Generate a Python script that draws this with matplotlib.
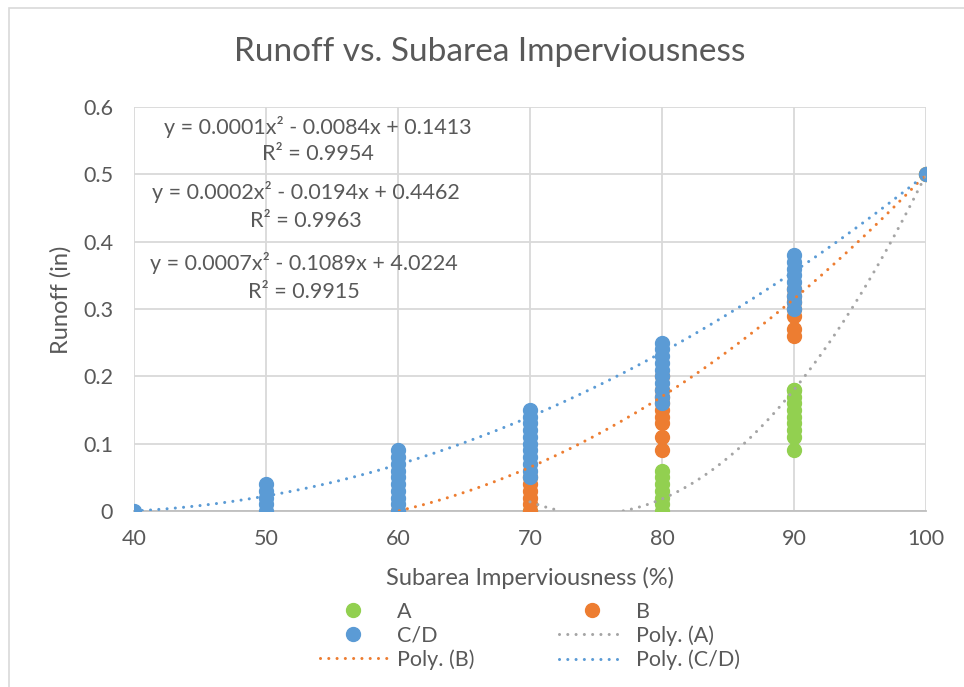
import numpy as np
import matplotlib
matplotlib.use("Agg")
import matplotlib.pyplot as plt
from matplotlib.lines import Line2D
from matplotlib.patches import Rectangle

plt.rcParams['font.family'] = ['Lato', 'DejaVu Sans']

# ---- data ----
a_x = [70, 80, 80, 80, 80, 80, 80, 80, 90, 90, 90, 90, 90, 90, 90, 90, 90, 90, 100]
a_y = [0.0, 0.0, 0.01, 0.02, 0.03, 0.04, 0.05, 0.06, 0.09, 0.11, 0.12, 0.13, 0.14, 0.15, 0.16, 0.17, 0.18, 0.18, 0.5]

b_x = [60, 70, 70, 70, 70, 70, 70, 80, 80, 80, 80, 80, 80, 80, 80, 80, 90, 90, 90, 90, 90, 90, 90, 100]
b_y = [0.0, 0.0, 0.01, 0.02, 0.03, 0.04, 0.05, 0.09, 0.11, 0.13, 0.14, 0.15, 0.16, 0.17, 0.18, 0.2, 0.26, 0.27, 0.29, 0.3, 0.31, 0.32, 0.33, 0.5]

cd_x = [40, 50, 50, 50, 50, 50, 60, 60, 60, 60, 60, 60, 60, 60, 60, 60,
        70, 70, 70, 70, 70, 70, 70, 70, 70, 70, 70,
        80, 80, 80, 80, 80, 80, 80, 80, 80, 80,
        90, 90, 90, 90, 90, 90, 90, 90, 90, 100]
cd_y = [0.0, 0.0, 0.01, 0.02, 0.03, 0.04, 0.0, 0.01, 0.02, 0.03, 0.04, 0.05, 0.06, 0.07, 0.08, 0.09,
        0.05, 0.06, 0.07, 0.08, 0.09, 0.1, 0.11, 0.12, 0.13, 0.14, 0.15,
        0.16, 0.17, 0.18, 0.19, 0.2, 0.21, 0.22, 0.23, 0.24, 0.25,
        0.3, 0.31, 0.32, 0.33, 0.34, 0.35, 0.36, 0.37, 0.38, 0.5]

# trendline values (quadratic drawn through them)
trend_a_x = [77, 90, 100]
trend_a_y = [0.0, 0.18, 0.5]
trend_a_range = [70, 100]
trend_b_x = [60, 80, 100]
trend_b_y = [0.0, 0.17, 0.5]
trend_b_range = [60, 100]
trend_cd_x = [40, 70, 100]
trend_cd_y = [0.0, 0.14, 0.5]
trend_cd_range = [40, 100]

eq_cd = ["y = 0.0001x² - 0.0084x + 0.1413", "R² = 0.9954"]
eq_b = ["y = 0.0002x² - 0.0194x + 0.4462", "R² = 0.9963"]
eq_a = ["y = 0.0007x² - 0.1089x + 4.0224", "R² = 0.9915"]

x_ticks = [40, 50, 60, 70, 80, 90, 100]
y_ticks = [0, 0.1, 0.2, 0.3, 0.4, 0.5, 0.6]
y_tick_labels = ["0", "0.1", "0.2", "0.3", "0.4", "0.5", "0.6"]

c_a = "#92d050"
c_b = "#ed7d31"
c_cd = "#5b9bd5"
c_pa = "#a5a5a5"
txt = "#595959"

W, H = 964, 687
fig = plt.figure(figsize=(W / 100, H / 100), dpi=100)
fig.patches.append(Rectangle((9 / W, -0.1), 1.2, 1 - 8 / H + 0.1, transform=fig.transFigure,
                             fill=False, edgecolor="#d9d9d9", linewidth=1.2))
ax = fig.add_axes([134 / W, 1 - 511 / H, (926 - 134) / W, (511 - 107) / H])

ms = 10
ax.plot(a_x, a_y, 'o', color=c_a, ms=ms, zorder=3)
ax.plot(b_x, b_y, 'o', color=c_b, ms=ms, zorder=3)
ax.plot(cd_x, cd_y, 'o', color=c_cd, ms=ms, zorder=3)

dot = (0, (0.01, 2.7))
dlw = 2.2


def trend(xs, ys, rng, color):
    coef = np.polyfit(xs, ys, 2)
    xx = np.linspace(rng[0], rng[1], 400)
    yy = np.polyval(coef, xx)
    yy = np.where(yy < 0, np.nan, yy)
    ax.plot(xx, yy, linestyle=dot, color=color, lw=dlw, zorder=4,
            dash_capstyle='round')


trend(trend_a_x, trend_a_y, trend_a_range, c_pa)
trend(trend_b_x, trend_b_y, trend_b_range, c_b)
trend(trend_cd_x, trend_cd_y, trend_cd_range, c_cd)

ax.set_xlim(40, 100)
ax.set_ylim(0, 0.6)
ax.set_xticks(x_ticks)
ax.set_yticks(y_ticks)
ax.set_yticklabels(y_tick_labels)
ax.grid(True, color="#d9d9d9", lw=1.3, zorder=0)
ax.set_axisbelow(True)
for s in ["top", "right", "left"]:
    ax.spines[s].set_visible(False)
ax.spines["bottom"].set_color("#bfbfbf")
ax.spines["bottom"].set_linewidth(1.3)
ax.tick_params(axis='both', length=0, labelsize=15.5, colors=txt)
ax.tick_params(axis='y', pad=15)
ax.tick_params(axis='x', pad=13)

fig.text(530 / W, 1 - 578 / H, "Subarea Imperviousness (%)", ha='center', va='center',
         fontsize=17, color=txt)
fig.text(61 / W, 1 - 300 / H, "Runoff (in)", ha='center', va='center', rotation=90,
         fontsize=17, color=txt)
fig.text(490 / W, 1 - 52 / H, "Runoff vs. Subarea Imperviousness", ha='center', va='center',
         fontsize=24, color=txt)

for (l1, l2), (xc, y1, y2) in zip([eq_cd, eq_b, eq_a],
                                  [(318, 127, 154), (306, 192, 221), (304, 263, 292)]):
    fig.text(xc / W, 1 - y1 / H, l1, ha='center', va='center', fontsize=15.5, color=txt)
    fig.text(xc / W, 1 - y2 / H, l2, ha='center', va='center', fontsize=15.5, color=txt)

h_a = Line2D([], [], marker='o', ls='none', color=c_a, ms=ms)
h_b = Line2D([], [], marker='o', ls='none', color=c_b, ms=ms)
h_cd = Line2D([], [], marker='o', ls='none', color=c_cd, ms=ms)
h_pa = Line2D([], [], ls=dot, color=c_pa, lw=dlw, dash_capstyle='round')
h_pb = Line2D([], [], ls=dot, color=c_b, lw=dlw, dash_capstyle='round')
h_pcd = Line2D([], [], ls=dot, color=c_cd, lw=dlw, dash_capstyle='round')
leg = fig.legend([h_a, h_cd, h_pb, h_b, h_pa, h_pcd],
                 ["A", "C/D", "Poly. (B)", "B", "Poly. (A)", "Poly. (C/D)"],
                 ncol=2, loc='center', bbox_to_anchor=(530 / W, 1 - 636 / H),
                 frameon=False, fontsize=15.5, handlelength=3.1, columnspacing=3.9,
                 labelspacing=0.18, handletextpad=0.5, labelcolor=txt,
                 borderpad=0, borderaxespad=0)

fig.savefig("out.png", dpi=100)
